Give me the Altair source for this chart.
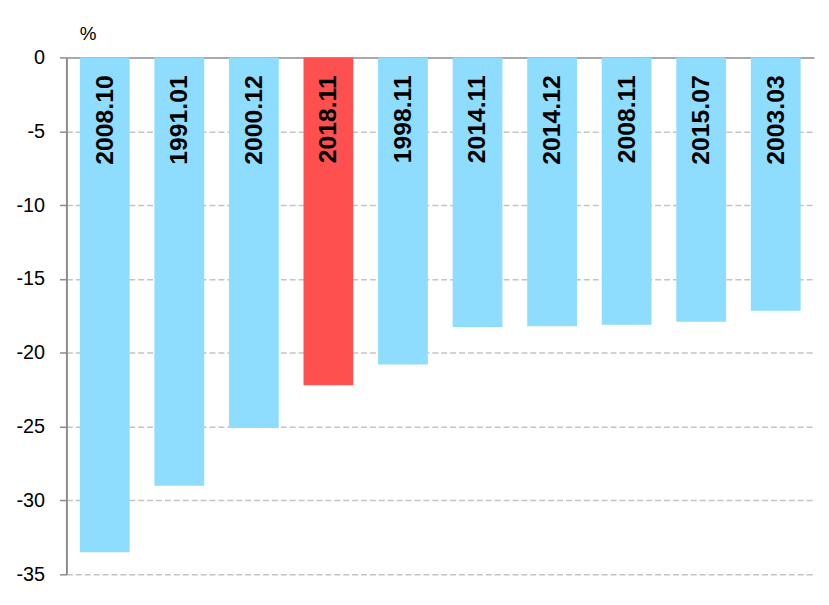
import altair as alt
import pandas as pd

labels = ["2008.10", "1991.01", "2000.12", "2018.11", "1998.11",
          "2014.11", "2014.12", "2008.11", "2015.07", "2003.03"]
values = [-33.5, -29.0, -25.1, -22.2, -20.8, -18.25, -18.2, -18.1, -17.9, -17.15]
highlight = [False, False, False, True, False, False, False, False, False, False]
y_ticks = [0, -5, -10, -15, -20, -25, -30, -35]

df = pd.DataFrame({"label": labels, "value": values, "hl": highlight, "zero": [0] * len(labels)})

x_enc = alt.X("label:N", sort=labels,
              scale=alt.Scale(paddingInner=0.332, paddingOuter=0.18),
              axis=alt.Axis(orient="top", labels=False, ticks=False, title=None,
                            domainColor="#a9a9a9", domainWidth=2))

bars = alt.Chart(df).mark_bar().encode(
    x=x_enc,
    y=alt.Y("value:Q", scale=alt.Scale(domain=[-35, 0], nice=False),
            axis=alt.Axis(values=y_ticks, domain=True,
                          labelExpr="toString(datum.value)",
                          title="%", titleAngle=0, titleAlign="left",
                          titleBaseline="alphabetic", titleX=13, titleY=-18,
                          titleFont="Liberation Sans", titleFontSize=19,
                          titleFontWeight="normal", titleColor="#000000",
                          labelFont="Liberation Sans", labelFontSize=20,
                          labelColor="#000000", labelPadding=15,
                          tickSize=7, tickColor="#8c8c8c", tickWidth=1.5,
                          domainColor="#8c8c8c", domainWidth=2,
                          grid=True, gridColor="#c4c4c4", gridDash=[6, 3],
                          gridWidth=1.5)),
    color=alt.Color("hl:N", scale=alt.Scale(domain=[False, True],
                                            range=["#8EDDFF", "#FF5050"]),
                    legend=None),
)

text = alt.Chart(df).mark_text(
    angle=270, align="right", baseline="middle", dx=-18,
    font="Liberation Sans", fontSize=25, fontWeight="bold", color="#000000",
).encode(
    x=alt.X("label:N", sort=labels),
    y=alt.Y("zero:Q"),
    text="label:N",
)

chart = alt.layer(bars, text).properties(
    width=755, height=522,
    autosize=alt.AutoSizeParams(type="none"),
    padding={"left": 59, "top": 47, "right": 7, "bottom": 20},
    background="#ffffff",
).configure_view(stroke=None)

chart.save("out.html", embed_options={"renderer": "svg", "actions": False})
